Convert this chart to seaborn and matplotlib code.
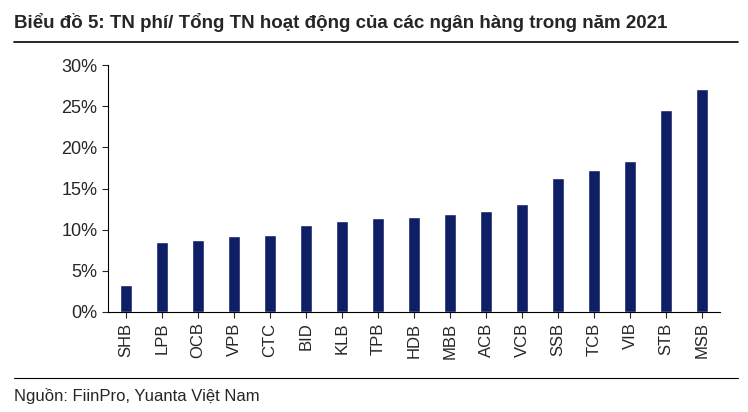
import matplotlib
matplotlib.use("Agg")
import matplotlib.pyplot as plt
import seaborn as sns
import pandas as pd
from matplotlib.lines import Line2D

banks = ["SHB","LPB","OCB","VPB","CTC","BID","KLB","TPB","HDB","MBB","ACB","VCB","SSB","TCB","VIB","STB","MSB"]
values = [3.3,8.5,8.8,9.2,9.3,10.6,11.0,11.4,11.5,11.9,12.3,13.1,16.3,17.2,18.4,24.5,27.1]
yticks = [0,5,10,15,20,25,30]

sns.set_style("white")
plt.rcParams['font.family'] = ['Liberation Sans', 'DejaVu Sans']

fig = plt.figure(figsize=(7.48,4.12), dpi=100)
ax = fig.add_axes([108/748, 1-312/412, (720-108)/748, (312-65)/412])
df = pd.DataFrame({"bank": banks, "v": values})
sns.barplot(data=df, x="bank", y="v", color="#0f1f66", saturation=1, width=0.33, ax=ax)
ax.set_ylim(0,30)
ax.set_yticks(yticks)
ax.set_yticklabels([f"{t}%" for t in yticks], fontsize=13)
ax.tick_params(axis='x', labelrotation=90, labelsize=12, length=4, direction='out', bottom=True)
ax.tick_params(axis='y', length=4, direction='out', left=True)
ax.set_xlabel(""); ax.set_ylabel("")
for s in ["top","right"]:
    ax.spines[s].set_visible(False)
for s in ["left","bottom"]:
    ax.spines[s].set_color("black"); ax.spines[s].set_linewidth(0.8)

fig.text(14/748, 1-22/412, "Biểu đồ 5: TN phí/ Tổng TN hoạt động của các ngân hàng trong năm 2021",
         fontsize=13.5, fontweight="bold", va="center")
fig.add_artist(Line2D([14/748, 738/748], [1-42/412]*2, color="black", lw=1.2))
fig.add_artist(Line2D([14/748, 738/748], [1-378/412]*2, color="black", lw=0.8))
fig.text(14/748, 1-396/412, "Nguồn: FiinPro, Yuanta Việt Nam", fontsize=12, va="center")
fig.savefig("out.png", dpi=100)
